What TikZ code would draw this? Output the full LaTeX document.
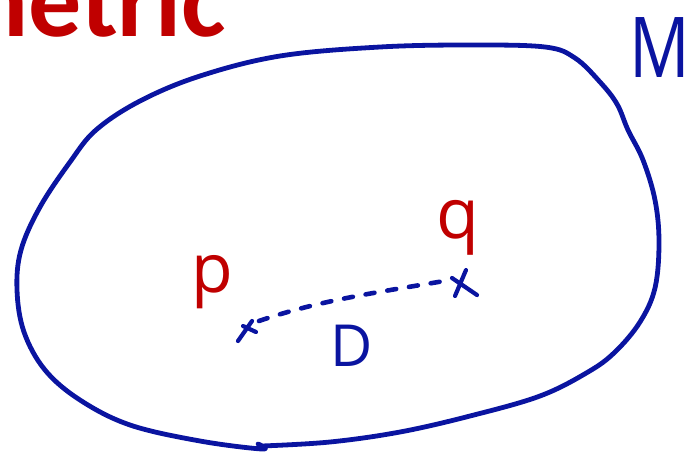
\documentclass[tikz,border=0pt]{standalone}
\usepackage{fontspec}
\usetikzlibrary{calc}
\setmainfont{Carlito}
\newfontfamily\handfont{Open Sans}
\definecolor{inkblue}{RGB}{10,20,160}
\definecolor{inkred}{RGB}{192,0,0}
\tikzset{
  ink/.style={line width=4.8pt, line cap=round, line join=round},
  lbl/.style={inner sep=0pt, font=\handfont},
}
\begin{document}
\begin{tikzpicture}[x=1pt,y=-1pt]
\useasboundingbox (0,0) rectangle (697,456);
\begin{scope}
\clip (0,0) rectangle (697,456);
\node[inner sep=0pt, anchor=base west, text=inkred, font=\fontsize{106}{106}\selectfont\bfseries] (title) at (-58,36) {metric};
\end{scope}
% manifold blob
\draw[ink, inkblue] plot[smooth, tension=0.6] coordinates {
 (258,444) (262,449) (200,441) (130,425) (80,400) (45,370) (24,332) (17,290) (21,250)
 (40,207) (70,162) (96,130) (140,101) (200,76) (280,56) (380,47) (470,45)
 (545,47) (575,58) (600,82) (617,104) (628,130) (643,160) (655,200) (659,242)
 (655,288) (640,322) (615,352) (588,372) (540,396) (470,416) (400,432)
 (330,442) (262,446)};
\node[lbl, text=inkblue, font=\handfont\fontsize{84}{84}\selectfont] (M) at (660,48) {\scalebox{0.8}[1]{M}};
\node[lbl, text=inkred, font=\handfont\fontsize{68}{68}\selectfont] (p) at (212,282) {p};
\node[lbl, text=inkred, font=\handfont\fontsize{70}{70}\selectfont] (q) at (458,228) {q};
\node[lbl, text=inkblue, font=\handfont\fontsize{58}{58}\selectfont] (D) at (352,346) {D};
% points
\coordinate (x1) at (247,329);
\coordinate (x2) at (464,283);
\draw[ink, inkblue, line width=4.2pt] ($(x1)+(-9,12)$) -- ($(x1)+(5,-8)$);
\draw[ink, inkblue, line width=4.2pt] ($(x1)+(-4,-3)$) -- ($(x1)+(9,3)$);
\draw[ink, inkblue, line width=4.2pt] ($(x2)+(-9,13)$) -- ($(x2)+(2,-13)$);
\draw[ink, inkblue, line width=4.2pt] ($(x2)+(-12,-5)$) -- ($(x2)+(13,12)$);
\draw[ink, inkblue, line width=4.6pt, dash pattern=on 9pt off 13pt] ($(x1)+(12,-8)$) .. controls (320,300) and (380,292) .. ($(x2)+(-14,-3)$);
\end{tikzpicture}
\end{document}
